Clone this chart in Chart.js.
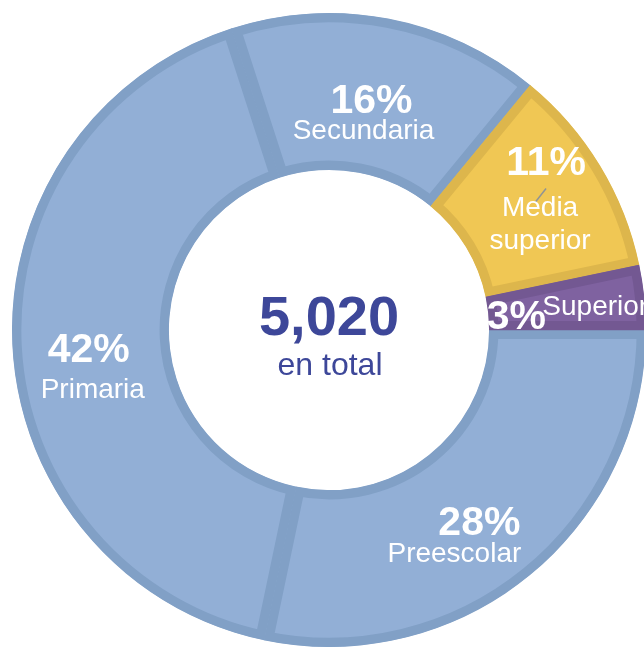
<!DOCTYPE html>
<html>
<head>
<meta charset="utf-8">
<script src="https://cdn.jsdelivr.net/npm/chart.js@4/dist/chart.umd.min.js"></script>
<style>
  html, body { margin: 0; padding: 0; background: #ffffff; }
  #wrap { width: 644px; height: 649px; position: relative; }
</style>
</head>
<body>
<div id="wrap"><canvas id="c"></canvas></div>
<script>
// ---- data ----
const categories = ['Preescolar', 'Primaria', 'Secundaria', 'Media superior', 'Superior'];
const nameLines = [['Preescolar'], ['Primaria'], ['Secundaria'], ['Media', 'superior'], ['Superior']];
const values = [1420, 2095, 800, 540, 165];
const totalLabel = 'en total';

// ---- styles ----
const fillColors = ['#92AFD6', '#92AFD6', '#92AFD6', '#F0C754', '#7F62A0'];
const borderColors = ['#81A0C6', '#81A0C6', '#81A0C6', '#DDB64C', '#735892'];

// label layout: offsets from each arc's centre point (pct baseline, then name line baselines)
const labelLayout = [
  { pct: [0, 20],   names: [[-25, 47]] },
  { pct: [-2, 19],  names: [[2, 55]] },
  { pct: [-2, 17],  names: [[-10, 43]] },
  { pct: [13, -31], names: [[7, 10], [7, 43]] },
  { pct: [-50, 24], names: [[29, 10]] }
];

const labelPlugin = {
  id: 'sliceLabels',
  afterDatasetsDraw(chart) {
    const ctx = chart.ctx;
    const meta = chart.getDatasetMeta(0);
    const total = values.reduce((a, b) => a + b, 0);
    ctx.save();
    ctx.textAlign = 'center';
    ctx.textBaseline = 'alphabetic';
    meta.data.forEach((arc, i) => {
      const mid = (arc.startAngle + arc.endAngle) / 2;
      const r = (arc.innerRadius + arc.outerRadius) / 2;
      const px = arc.x + Math.cos(mid) * r;
      const py = arc.y + Math.sin(mid) * r;
      const lay = labelLayout[i];
      if (i === 3) {
        ctx.strokeStyle = 'rgba(120,135,165,0.8)';
        ctx.lineWidth = 1.5;
        ctx.beginPath();
        ctx.moveTo(px + 2, py - 4);
        ctx.lineTo(px + 13, py - 18);
        ctx.stroke();
      }
      ctx.fillStyle = '#ffffff';
      ctx.font = '28px "Liberation Sans", Arial, sans-serif';
      nameLines[i].forEach((t, k) => {
        const o = lay.names[k];
        ctx.fillText(t, px + o[0], py + o[1]);
      });
      ctx.font = 'bold 41px "Liberation Sans", Arial, sans-serif';
      const pct = Math.round(values[i] / total * 100) + '%';
      ctx.fillText(pct, px + lay.pct[0], py + lay.pct[1]);
    });
    // centre total
    const a0 = meta.data[0];
    ctx.fillStyle = '#3D4799';
    ctx.font = 'bold 56px "Liberation Sans", Arial, sans-serif';
    ctx.fillText(total.toLocaleString('en-US'), a0.x, a0.y + 5);
    ctx.font = '32px "Liberation Sans", Arial, sans-serif';
    ctx.fillText(totalLabel, a0.x + 1, a0.y + 45);
    ctx.restore();
  }
};

new Chart(document.getElementById('c'), {
  type: 'doughnut',
  data: {
    labels: categories,
    datasets: [{
      data: values,
      backgroundColor: fillColors,
      borderColor: borderColors,
      borderWidth: 9,
      borderAlign: 'inner',
      clip: false
    }]
  },
  options: {
    responsive: true,
    maintainAspectRatio: false,
    animation: false,
    events: [],
    rotation: 90,
    radius: 317,
    cutout: '50.5%',
    layout: { padding: { left: 14, top: 11, right: 0, bottom: 0 } },
    plugins: { legend: { display: false }, tooltip: { enabled: false } }
  },
  plugins: [labelPlugin]
});
</script>
</body>
</html>
